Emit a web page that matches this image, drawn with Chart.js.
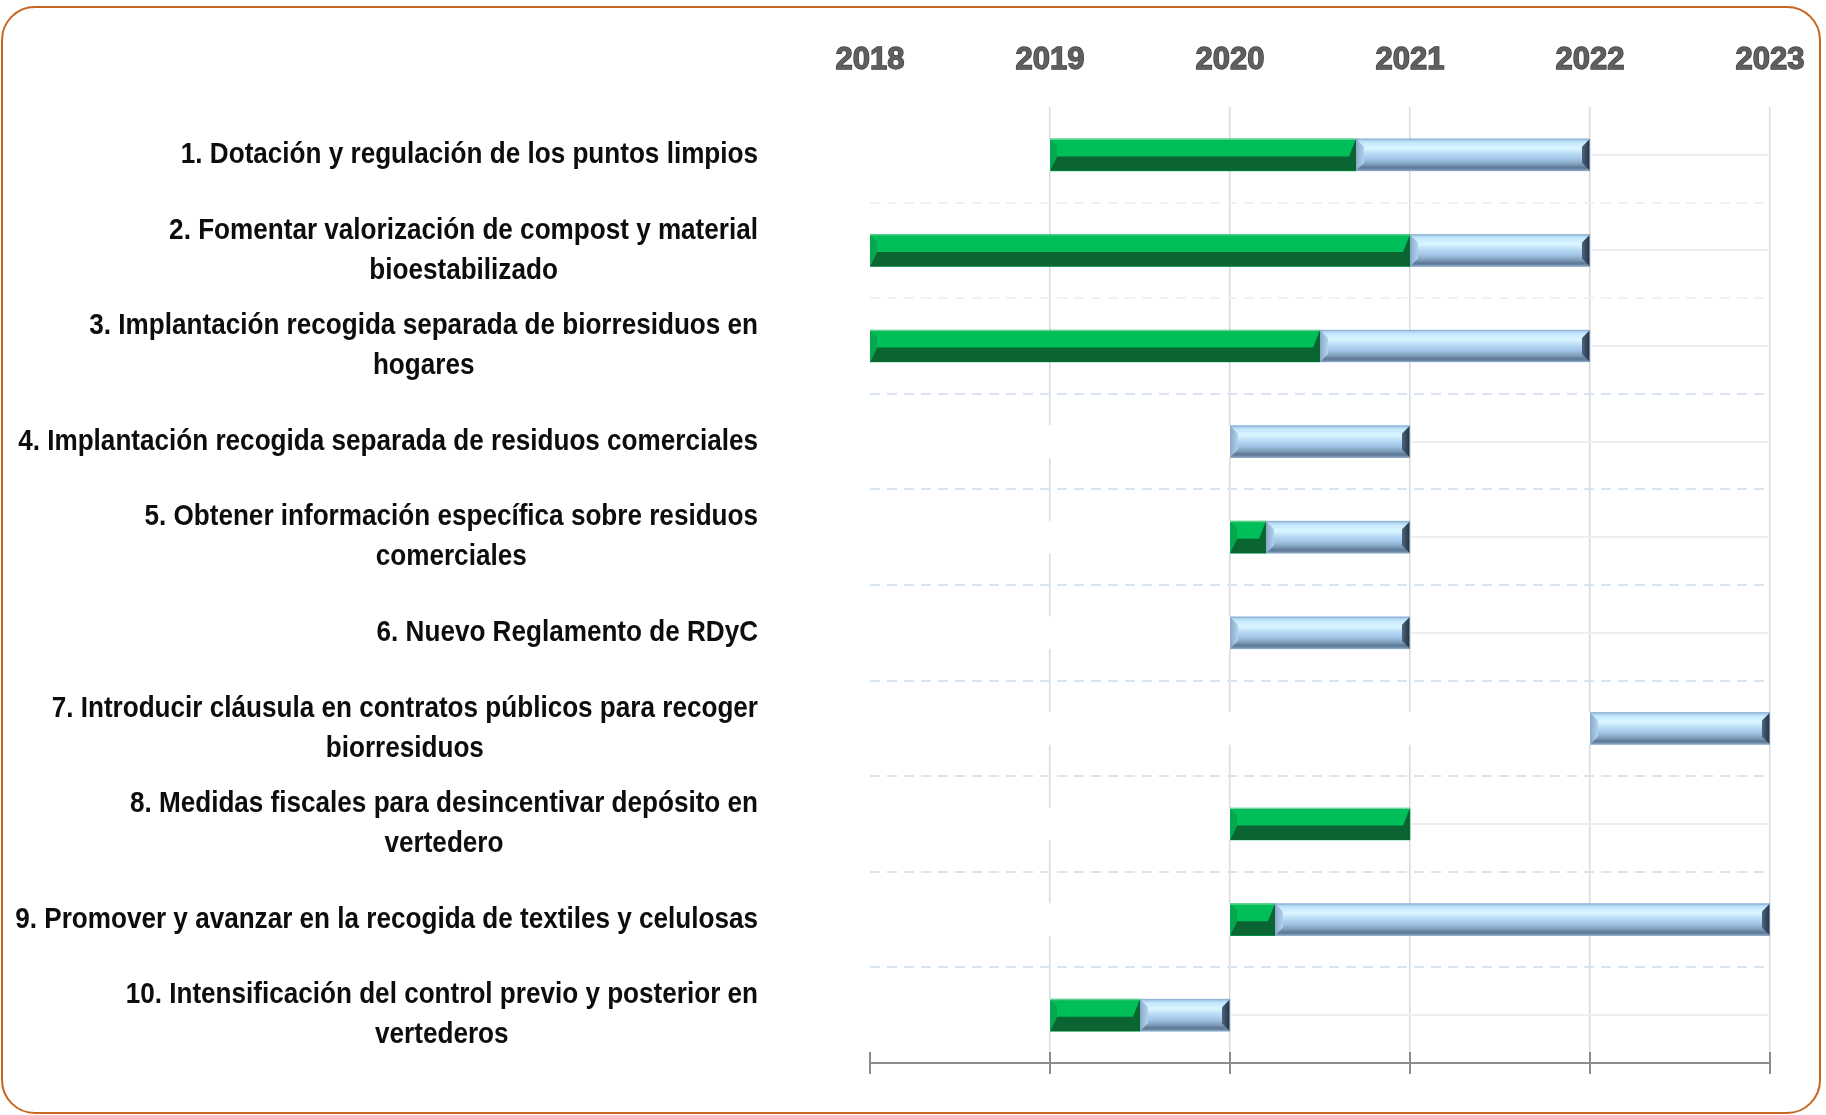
<!DOCTYPE html>
<html>
<head>
<meta charset="utf-8">
<script src="https://cdn.jsdelivr.net/npm/chart.js@4.4.0/dist/chart.umd.min.js"></script>
<style>
  html, body { margin: 0; padding: 0; background: #fff; }
  #wrap { position: relative; width: 1826px; height: 1115px; }
  #frame { position: absolute; left: 1px; top: 6px; width: 1816px; height: 1104px;
           border: 2px solid #c8661f; border-radius: 34px; pointer-events: none; }
  canvas { position: absolute; left: 0; top: 0; }
</style>
</head>
<body>
<div id="wrap">
  <canvas id="gantt" width="1826" height="1115"></canvas>
  <div id="frame"></div>
</div>
<script>
// --- data ---
const categories = [
  ['1. Dotación y regulación de los puntos limpios'],
  ['2. Fomentar valorización de compost y material', 'bioestabilizado'],
  ['3. Implantación recogida separada de biorresiduos en', 'hogares'],
  ['4. Implantación recogida separada de residuos comerciales'],
  ['5. Obtener información específica sobre residuos', 'comerciales'],
  ['6. Nuevo Reglamento de RDyC'],
  ['7. Introducir cláusula en contratos públicos para recoger', 'biorresiduos'],
  ['8. Medidas fiscales para desincentivar depósito en', 'vertedero'],
  ['9. Promover y avanzar en la recogida de textiles y celulosas'],
  ['10. Intensificación del control previo y posterior en', 'vertederos']
];
const yearLabels = ['2018', '2019', '2020', '2021', '2022', '2023'];
const startYear = [2019, 2018, 2018, 2020, 2020, 2020, 2022, 2020, 2020, 2019];
const greenEnd  = [2020.7, 2021, 2020.5, null, 2020.2, null, null, 2021, 2020.25, 2019.5];
const blueEnd   = [2022, 2022, 2022, 2021, 2021, 2021, 2023, null, 2023, 2020];

const GREEN = '#00bf58', GREEN_DARK = '#0a6533';

// narrow look for the labels: squeezed Liberation Sans bold
const labelFamily = '"Liberation Sans", Arial, sans-serif';
const squeeze = 0.87;
const LABEL_RIGHT = 758, LABEL_SIZE = 30, LINE_H = 40;

// floating bars [from, to]
const xBase = Number(yearLabels[0]);
const whiteData = startYear.map(s => s > xBase ? [xBase, s] : null);
const greenData = startYear.map((s, i) => greenEnd[i] == null ? null : [s, greenEnd[i]]);
const blueData = startYear.map((s, i) => blueEnd[i] == null ? null : [greenEnd[i] == null ? s : greenEnd[i], blueEnd[i]]);

function drawGreen(ctx, x0, x1, yt, yb) {
  const b = Math.min(7, (x1 - x0) / 2), ym = yt + (yb - yt) * 0.55;
  ctx.fillStyle = GREEN_DARK;
  ctx.beginPath();
  ctx.moveTo(x0, yb); ctx.lineTo(x0 + b, ym); ctx.lineTo(x1 - b, ym);
  ctx.lineTo(x1, yt); ctx.lineTo(x1, yb); ctx.closePath(); ctx.fill();
  ctx.fillStyle = '#06a74f';
  ctx.beginPath();
  ctx.moveTo(x0, yt); ctx.lineTo(x0 + b, yt + b); ctx.lineTo(x0 + b, ym);
  ctx.lineTo(x0, yb); ctx.closePath(); ctx.fill();
  ctx.strokeStyle = 'rgba(150,215,175,0.8)';
  ctx.lineWidth = 1;
  ctx.beginPath(); ctx.moveTo(x0, yt + 0.5); ctx.lineTo(x1, yt + 0.5); ctx.stroke();
}

function drawBlue(ctx, x0, x1, yt, yb) {
  const g = ctx.createLinearGradient(0, yt, 0, yb);
  g.addColorStop(0, '#9fc2e4');
  g.addColorStop(0.12, '#c4e8fd');
  g.addColorStop(0.3, '#dbf6ff');
  g.addColorStop(0.5, '#b3d6f3');
  g.addColorStop(0.64, '#a2c5e7');
  g.addColorStop(0.8, '#7e9dbb');
  g.addColorStop(0.9, '#5c7894');
  g.addColorStop(1, '#7d99b5');
  ctx.fillStyle = g;
  ctx.fillRect(x0, yt, x1 - x0, yb - yt);
  const b = Math.min(8, (x1 - x0) / 2);
  const lg = ctx.createLinearGradient(x0, 0, x0 + b, 0);
  lg.addColorStop(0, '#88a9c8'); lg.addColorStop(1, '#b2d3ef');
  ctx.fillStyle = lg;
  ctx.beginPath();
  ctx.moveTo(x0, yt); ctx.lineTo(x0 + b, yt + b); ctx.lineTo(x0 + b, yb - b);
  ctx.lineTo(x0, yb); ctx.closePath(); ctx.fill();
  const rg = ctx.createLinearGradient(x1 - b, 0, x1, 0);
  rg.addColorStop(0, '#4d667e'); rg.addColorStop(1, '#22303e');
  ctx.fillStyle = rg;
  ctx.beginPath();
  ctx.moveTo(x1, yt); ctx.lineTo(x1 - b, yt + b); ctx.lineTo(x1 - b, yb - b);
  ctx.lineTo(x1, yb); ctx.closePath(); ctx.fill();
  ctx.strokeStyle = 'rgba(140,170,200,0.7)';
  ctx.lineWidth = 1;
  ctx.strokeRect(x0 + 0.5, yt + 0.5, x1 - x0 - 1, yb - yt - 1);
}

const bevelPlugin = {
  id: 'bevel',
  afterDatasetsDraw(chart) {
    const ctx = chart.ctx;
    ctx.save();
    [1, 2].forEach(di => {
      chart.getDatasetMeta(di).data.forEach((bar, i) => {
        if (chart.data.datasets[di].data[i] == null) return;
        const x0 = Math.min(bar.x, bar.base), x1 = Math.max(bar.x, bar.base);
        const yt = bar.y - bar.height / 2, yb = bar.y + bar.height / 2;
        if (di === 1) drawGreen(ctx, x0, x1, yt, yb);
        else drawBlue(ctx, x0, x1, yt, yb);
      });
    });
    ctx.restore();
  }
};

const labelPlugin = {
  id: 'catLabels',
  afterDraw(chart) {
    const ctx = chart.ctx, ys = chart.scales.y, xs = chart.scales.x2;
    ctx.save();
    ctx.font = 'bold ' + LABEL_SIZE + 'px ' + labelFamily;
    ctx.fillStyle = '#0d0d0d';
    ctx.textAlign = 'center';
    ctx.textBaseline = 'middle';
    categories.forEach((lines, i) => {
      const yc = ys.getPixelForValue(i);
      const w = Math.max(...lines.map(l => ctx.measureText(l).width)) * squeeze;
      const cx = LABEL_RIGHT - w / 2;
      lines.forEach((l, k) => {
        const y = yc + (k - (lines.length - 1) / 2) * LINE_H;
        ctx.save();
        ctx.translate(cx, y);
        ctx.scale(squeeze, 1);
        ctx.fillText(l, 0, 0);
        ctx.restore();
      });
    });
    // upper half of the bottom axis tick marks
    ctx.strokeStyle = '#8c8c8c';
    ctx.lineWidth = 2;
    yearLabels.forEach(y => {
      const px = Math.round(xs.getPixelForValue(Number(y)));
      ctx.beginPath();
      ctx.moveTo(px, xs.top - 11);
      ctx.lineTo(px, xs.top);
      ctx.stroke();
    });
    ctx.restore();
  }
};

const ctx = document.getElementById('gantt').getContext('2d');

new Chart(ctx, {
  type: 'bar',
  data: {
    labels: categories,
    datasets: [
      { data: whiteData, backgroundColor: '#ffffff', barThickness: 32 },
      { data: greenData, backgroundColor: GREEN, barThickness: 32 },
      { data: blueData, backgroundColor: '#a9cdee', barThickness: 32 }
    ]
  },
  options: {
    indexAxis: 'y',
    responsive: false,
    animation: false,
    layout: { padding: { left: 0, right: 56, top: 0, bottom: 0 } },
    scales: {
      x: {
        type: 'linear',
        position: 'top',
        stacked: false,
        min: 2018,
        max: 2023,
        ticks: {
          stepSize: 1,
          callback: (v, i) => yearLabels[i],
          font: { family: '"Liberation Sans", Arial, sans-serif', size: 31, weight: 'bold' },
          color: '#5f5f5f',
          textStrokeColor: '#404040',
          textStrokeWidth: 1.3,
          padding: 28
        },
        grid: {
          color: c => c.index === 0 ? 'rgba(0,0,0,0)' : '#d9d9d9',
          lineWidth: 1.5,
          drawTicks: false
        },
        border: { display: false },
        afterFit: s => { s.height = 107; s.paddingLeft = 0; s.paddingRight = 0; }
      },
      x2: {
        type: 'linear',
        position: 'bottom',
        stacked: false,
        min: 2018,
        max: 2023,
        ticks: { display: false, stepSize: 1 },
        grid: { drawOnChartArea: false, drawTicks: true, tickLength: 11, color: '#8c8c8c', lineWidth: 2 },
        border: { color: '#8c8c8c', width: 2 },
        afterFit: s => { s.height = 52; s.paddingLeft = 0; s.paddingRight = 0; }
      },
      y: {
        type: 'category',
        position: 'left',
        offset: true,
        stacked: true,
        ticks: { display: false },
        grid: { offset: false, color: '#eeeeee', lineWidth: 2, drawTicks: false },
        border: { display: false },
        afterFit: s => { s.width = 870; }
      },
      y2: {
        type: 'category',
        position: 'left',
        offset: true,
        ticks: { display: false },
        grid: {
          offset: true,
          color: c => (c.index === 0 || c.index === categories.length) ? 'rgba(0,0,0,0)'
            : (c.index <= 2 ? '#eef1f7' : '#d9e4f2'),
          lineWidth: 2,
          drawTicks: false
        },
        border: { display: false, dash: [10, 7] },
        afterFit: s => { s.width = 0; }
      }
    },
    plugins: {
      legend: { display: false },
      tooltip: { enabled: false }
    }
  },
  plugins: [bevelPlugin, labelPlugin]
});
</script>
</body>
</html>
